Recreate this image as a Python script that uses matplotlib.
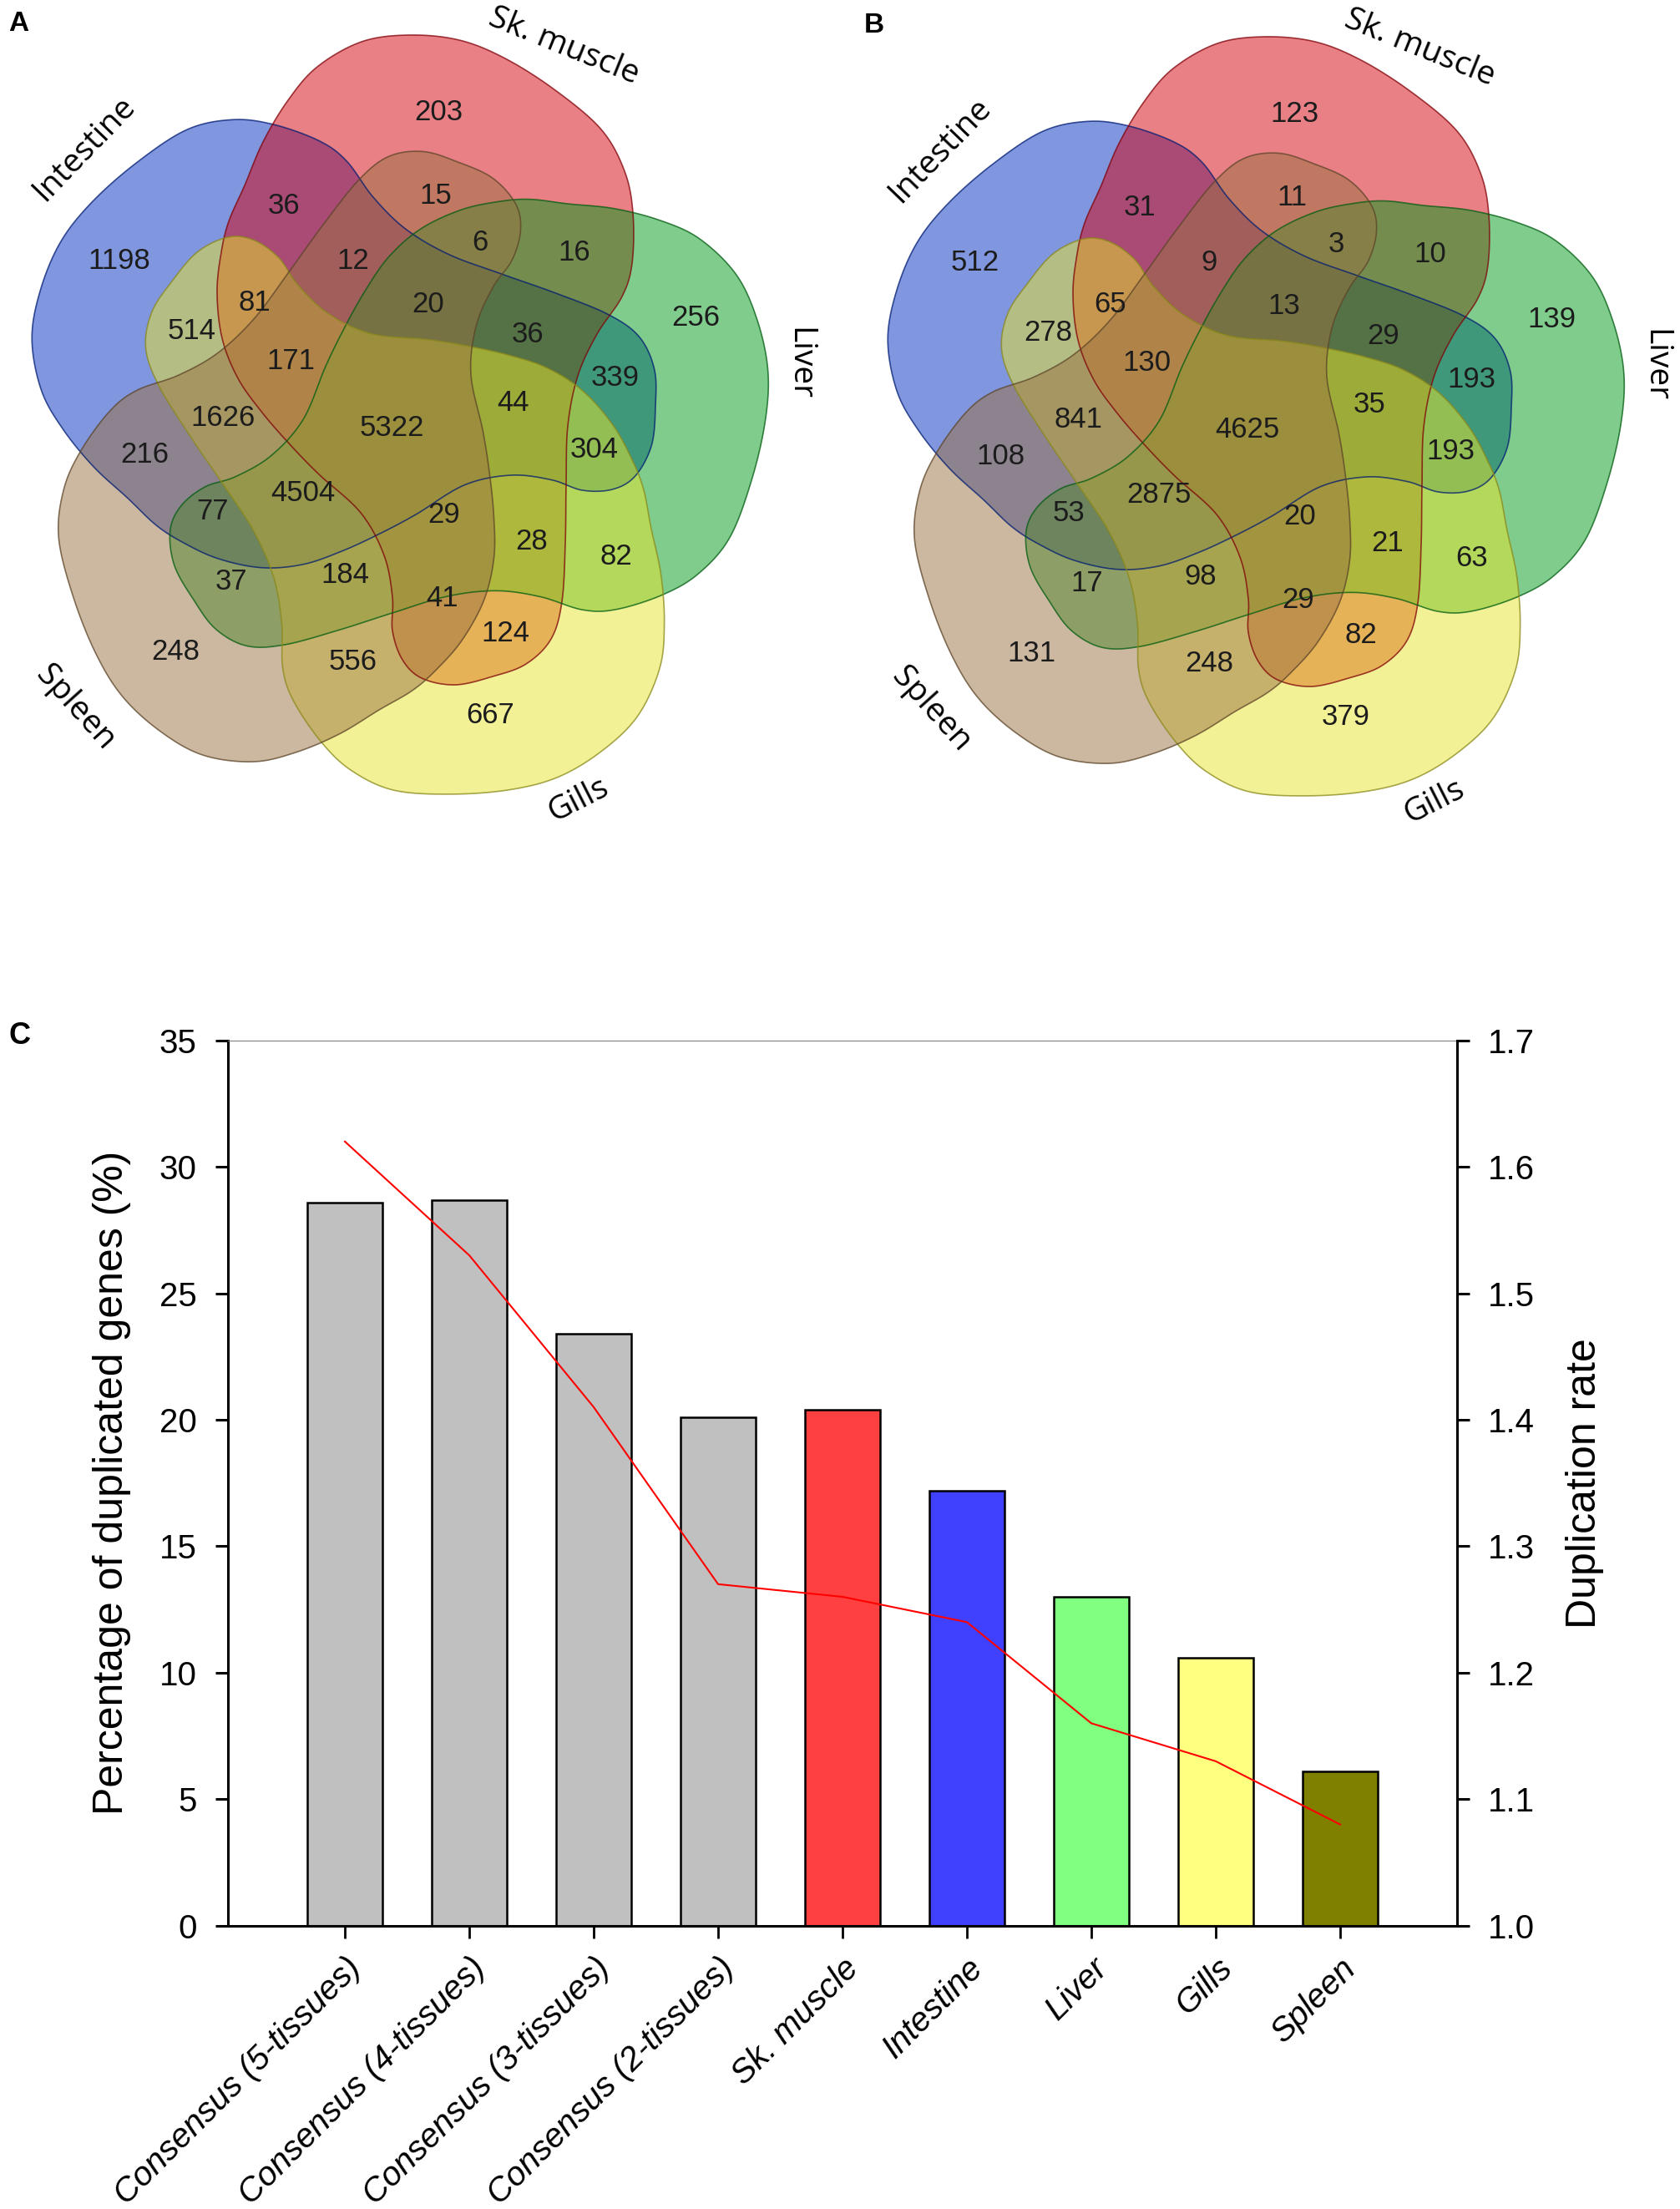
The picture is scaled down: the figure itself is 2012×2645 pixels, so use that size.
import numpy as np
import matplotlib
matplotlib.use("Agg")
import matplotlib.pyplot as plt
from matplotlib.patches import Polygon
from matplotlib.transforms import ScaledTranslation

plt.rcParams['font.family'] = ['Liberation Sans', 'DejaVu Sans']

# ---------------- data ----------------
# sets of the Venn diagrams (R=Sk. muscle, G=Liver, Y=Gills, S=Spleen, B=Intestine)
set_keys = ['R', 'G', 'Y', 'S', 'B']
set_names = ['Sk. muscle', 'Liver', 'Gills', 'Spleen', 'Intestine']
set_colors = ['#d3020c', '#029a1a', '#e6e42c', '#9a7242', '#022ebe']

region_sets = ['R', 'RS', 'RSG', 'RG', 'RB', 'RSB', 'RGSB', 'RGB', 'G', 'GB',
               'RGYB', 'GYB', 'GY', 'RGY', 'RGYS', 'RYS', 'RY', 'Y', 'YS', 'GYS',
               'GS', 'GSB', 'GYSB', 'S', 'SB', 'YSB', 'YB', 'RYB', 'RYSB', 'B', 'RGYSB']
counts_a = [203, 15, 6, 16, 36, 12, 20, 36, 256, 339,
            44, 304, 82, 28, 29, 41, 124, 667, 556, 184,
            37, 77, 4504, 248, 216, 1626, 514, 81, 171, 1198, 5322]
counts_b = [123, 11, 3, 10, 31, 9, 13, 29, 139, 193,
            35, 193, 63, 21, 20, 29, 82, 379, 248, 98,
            17, 53, 2875, 131, 108, 841, 278, 65, 130, 512, 4625]

# bar chart
categories = ['Consensus (5-tissues)', 'Consensus (4-tissues)', 'Consensus (3-tissues)',
              'Consensus (2-tissues)', 'Sk. muscle', 'Intestine', 'Liver', 'Gills', 'Spleen']
pct_duplicated = [28.6, 28.7, 23.4, 20.1, 20.4, 17.2, 13.0, 10.6, 6.1]
duplication_rate = [1.62, 1.53, 1.41, 1.27, 1.26, 1.24, 1.16, 1.13, 1.08]
bar_colors = ['#c0c0c0', '#c0c0c0', '#c0c0c0', '#c0c0c0',
              '#ff4040', '#4040ff', '#80ff80', '#ffff80', '#808000']

# ---------------- layout (pixels of the 2012x2645 canvas) ----------------
W, H = 2012, 2645
center_a = (472, 509)
offset_b = (1025, 2)
x_squeeze = 0.966   # the source picture is a little narrower than tall

# outline of the Sk. muscle shape, the others are the same shape turned by 72 deg
shape_outline = [(433, 50), (490, 42), (550, 48), (605, 70), (665, 108), (720, 155),
                 (748, 205), (758, 255), (757, 315), (745, 355), (715, 400), (692, 450),
                 (680, 510), (678, 580), (677, 650), (673, 720), (660, 765), (630, 795),
                 (590, 810), (545, 820), (505, 812), (482, 790), (470, 755), (470, 715),
                 (460, 665), (432, 614), (382, 568), (347, 532), (314, 494), (285, 453),
                 (266, 405), (260, 350), (265, 302), (274, 265), (293, 222), (315, 170),
                 (345, 120), (380, 80)]

region_xy = [(525, 135), (522, 235), (575, 290), (688, 303), (340, 247), (423, 312),
             (513, 365), (632, 400), (833, 380), (737, 453), (615, 483), (712, 538),
             (738, 667), (637, 648), (532, 617), (530, 717), (605, 758), (587, 857),
             (423, 792), (413, 688), (277, 697), (255, 613), (363, 590), (210, 780),
             (173, 545), (267, 500), (230, 397), (305, 363), (348, 433), (143, 312),
             (469, 512)]

set_label_xy = [(675, 55), (957, 436), (693, 958), (90, 848), (101, 178)]
set_label_rot = [-22, -90, 27, -48, 46]


def smooth_closed(pts, n=24):
    P = np.asarray(pts, float)
    N = len(P)
    t = np.linspace(0, 1, n, endpoint=False)[:, None]
    out = []
    for i in range(N):
        p0, p1, p2, p3 = P[i - 1], P[i], P[(i + 1) % N], P[(i + 2) % N]
        out.append(0.5 * (2 * p1 + (-p0 + p2) * t + (2 * p0 - 5 * p1 + 4 * p2 - p3) * t ** 2
                          + (-p0 + 3 * p1 - 3 * p2 + p3) * t ** 3))
    return np.vstack(out)


def darker(c, f=0.6):
    rgb = np.array(matplotlib.colors.to_rgb(c))
    return tuple(rgb * f)


base = smooth_closed(shape_outline) - np.array(center_a)
base[:, 0] /= x_squeeze

fig = plt.figure(figsize=(W / 100, H / 100), dpi=100)
vax = fig.add_axes([0, 0, 1, 1])
vax.set_xlim(0, W)
vax.set_ylim(H, 0)
vax.axis('off')


def draw_venn(dx, dy, counts, panel):
    cx, cy = center_a[0] + dx, center_a[1] + dy
    shapes = []
    for k in range(5):
        a = np.deg2rad(72 * k)
        x = (base[:, 0] * np.cos(a) - base[:, 1] * np.sin(a)) * x_squeeze + cx
        y = base[:, 0] * np.sin(a) + base[:, 1] * np.cos(a) + cy
        shapes.append(np.column_stack([x, y]))
    for k in [4, 0, 1, 2, 3]:
        vax.add_patch(Polygon(shapes[k], closed=True, facecolor=set_colors[k],
                              edgecolor='none', alpha=0.5, zorder=1))
    for k in [4, 0, 1, 2, 3]:
        vax.add_patch(Polygon(shapes[k], closed=True, facecolor='none',
                              edgecolor=darker(set_colors[k]), lw=1.2, alpha=0.75, zorder=2))
    for (x, y), n in zip(region_xy, counts):
        vax.text(x + dx, y + dy, str(n), ha='center', va='center', fontsize=25,
                 color='#1c1c1c', zorder=3)
    for (x, y), name, rot in zip(set_label_xy, set_names, set_label_rot):
        vax.text(x + dx, y + dy, name, ha='center', va='center', rotation=rot,
                 rotation_mode='anchor', fontsize=28, family=['Open Sans', 'DejaVu Sans'],
                 color='black', zorder=3)
    vax.text(10 + dx, 37 + dy, panel, ha='left', va='baseline', fontsize=24,
             fontweight='bold', color='black')


draw_venn(0, 0, counts_a, 'A')
draw_venn(offset_b[0], offset_b[1], counts_b, 'B')

# ---------------- panel C ----------------
left, right, top, bottom = 273, 1745, 1245.7, 2305.7
ax = fig.add_axes([left / W, 1 - bottom / H, (right - left) / W, (bottom - top) / H])
x = np.arange(len(categories))
ax.bar(x, pct_duplicated, width=0.6, color=bar_colors, edgecolor='black', linewidth=1.8, zorder=2)
ax.set_xlim(-0.94, 8.94)
ax.set_ylim(0, 35)
ax.set_yticks(np.arange(0, 36, 5))
ax.set_xticks(x)
ax.set_xticklabels(categories, rotation=45, ha='right', va='top', rotation_mode='anchor',
                   fontstyle='italic', fontsize=29)
for lab in ax.get_xticklabels():
    lab.set_transform(lab.get_transform() + ScaledTranslation(0.06, 0, fig.dpi_scale_trans))
ax.tick_params(axis='x', direction='out', length=10.8, width=2.0, pad=12)
ax.tick_params(axis='y', direction='out', length=10.8, width=2.2, pad=16, labelsize=29)
ax.set_ylabel('Percentage of duplicated genes (%)', fontsize=36)
ax.yaxis.set_label_coords((157 - left) / (right - left), 0.5)
for s in ['left', 'bottom']:
    ax.spines[s].set_linewidth(2.2)
ax.spines['right'].set_visible(False)
ax.spines['top'].set_linewidth(0.8)
ax.spines['top'].set_color('#808080')

ax2 = ax.twinx()
ax2.plot(x, duplication_rate, color='#ff0000', lw=1.5)
ax2.set_ylim(1.0, 1.7)
ax2.set_yticks(np.arange(1.0, 1.71, 0.1))
ax2.set_yticklabels([f'{v:.1f}' for v in np.arange(1.0, 1.71, 0.1)])
ax2.tick_params(axis='y', direction='out', length=10.8, width=2.2, pad=16, labelsize=29)
ax2.set_ylabel('Duplication rate', fontsize=36)
ax2.yaxis.set_label_coords((1875 - left) / (right - left), 0.5)
ax2.spines['right'].set_linewidth(2.2)
for s in ['left', 'top', 'bottom']:
    ax2.spines[s].set_visible(False)

fig.text(10 / W, 1 - 1250 / H, 'C', ha='left', va='baseline', fontsize=26, fontweight='bold')

fig.savefig('out.png', dpi=100, facecolor='white')
